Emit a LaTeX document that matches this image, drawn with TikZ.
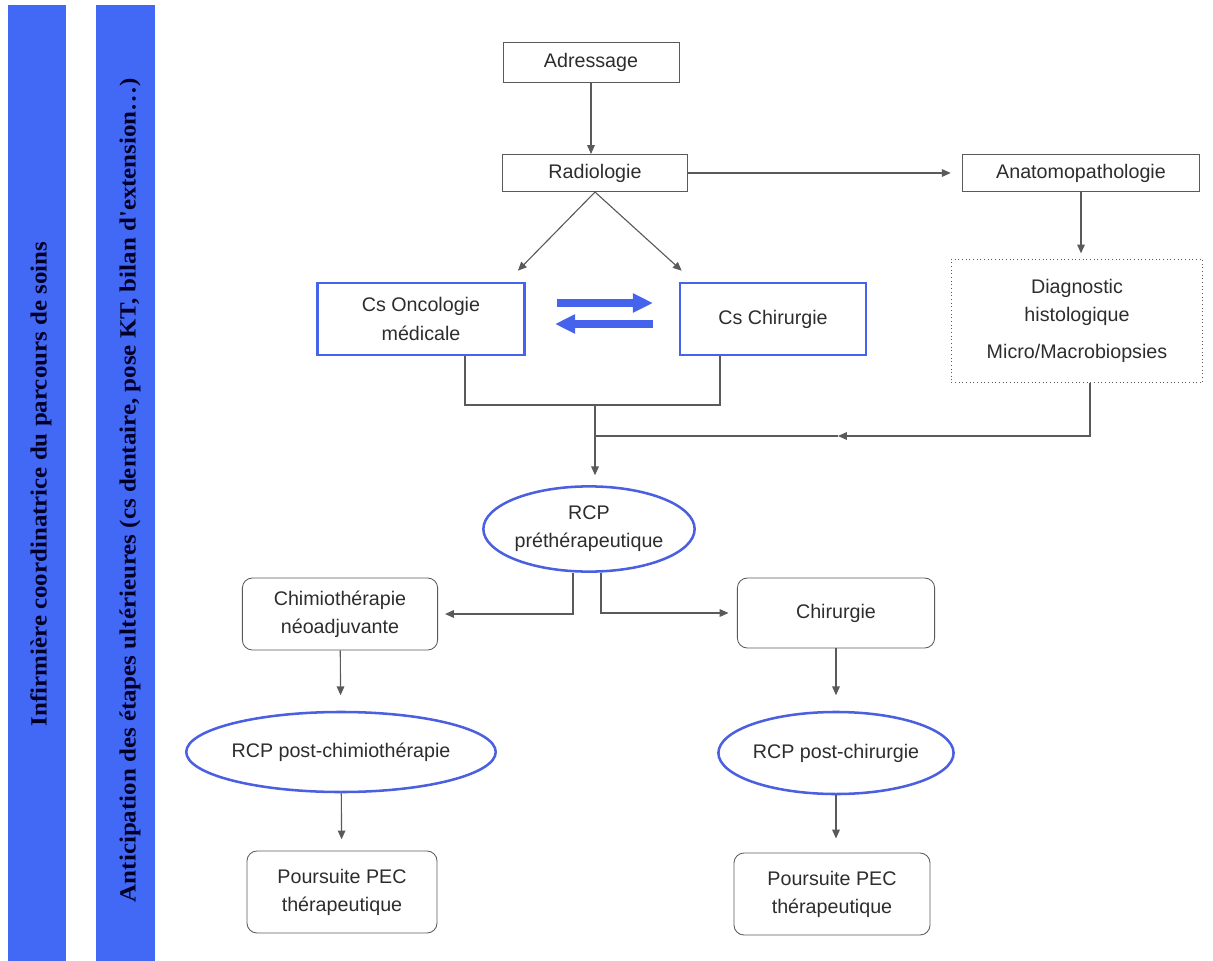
\documentclass[tikz,border=0pt]{standalone}
\usepackage{fontspec}
\setmainfont{Liberation Sans}
\newfontfamily\barfont{Liberation Serif}
\usepackage{graphicx}
\usepackage{xcolor}
\usepackage{tikz}
\usetikzlibrary{shapes.geometric, arrows.meta, positioning, calc}

\definecolor{barblue}{RGB}{66,104,246}
\definecolor{boxblue}{RGB}{70,100,235}
\definecolor{ovalblue}{RGB}{75,95,225}
\definecolor{linegray}{RGB}{90,90,90}
\definecolor{txtgray}{RGB}{45,45,45}

\tikzset{
  box/.style={draw=linegray, line width=0.6pt, text=txtgray, align=center,
    font=\fontsize{14}{20}\selectfont, inner sep=2pt},
  bluebox/.style={box, draw=boxblue, line width=1.8pt},
  roundbox/.style={box, rounded corners=0.25cm},
  oval/.style={ellipse, draw=ovalblue, line width=1.8pt, text=txtgray, align=center,
    font=\fontsize{14}{20}\selectfont, inner sep=0pt},
  line/.style={draw=linegray, line width=0.8pt},
  arr/.style={line, -{Triangle[length=2.2mm, width=1.9mm]}},
  bigarr/.style={draw=boxblue, line width=0.2cm, -{Triangle[length=0.5cm, width=0.45cm]}},
  bartext/.style={rotate=90, text=black!85!blue, font=\barfont\fontsize{16.5}{18}\bfseries\selectfont}
}

\begin{document}
\begin{tikzpicture}[x=0.025cm, y=-0.025cm]
  \useasboundingbox (0,0) rectangle (1213,961);

  % Side bars
  \fill[barblue] (8,5) rectangle (66,961);
  \fill[barblue] (96,5) rectangle (155,961);
  \node[bartext] (coord) at (41,484)
    {\resizebox{12.1cm}{\height}{Infirmière coordinatrice du parcours de soins}};
  \node[bartext] (antic) at (130,490)
    {\resizebox{20.6cm}{\height}{Anticipation des étapes ultérieures (cs dentaire, pose KT, bilan d'extension…)}};

  % Top boxes
  \node[box, minimum width=4.4cm, minimum height=1cm] (adr) at (591,62) {Adressage};
  \node[box, minimum width=4.63cm, minimum height=0.93cm] (radio) at (595,173) {Radiologie};
  \node[box, minimum width=5.93cm, minimum height=0.93cm] (anapath) at (1081,173) {Anatomopathologie};

  % Consultations
  \node[bluebox, minimum width=5.18cm, minimum height=1.8cm] (onco) at (421,319) {Cs Oncologie\\médicale};
  \node[bluebox, minimum width=4.65cm, minimum height=1.8cm] (chir) at (773,319) {Cs Chirurgie};
  \node[box, dotted, minimum width=6.28cm, minimum height=3.08cm] (diag) at (1077,321)
    {Diagnostic\\histologique\\[6pt]Micro/Macrobiopsies};

  % RCP and treatments
  \node[oval, minimum width=5.28cm, minimum height=2.13cm] (rcppre) at (589,529) {RCP\\préthérapeutique};
  \node[roundbox, minimum width=4.88cm, minimum height=1.8cm] (chimio) at (340,614) {Chimiothérapie\\néoadjuvante};
  \node[roundbox, minimum width=4.93cm, minimum height=1.75cm] (chirurgie) at (836,613) {Chirurgie};
  \node[oval, minimum width=6.63cm, minimum height=2cm] (rcpchimio) at (341,752) {RCP post-chimiothérapie};
  \node[oval, minimum width=5.45cm, minimum height=2.05cm] (rcpchir) at (836,753) {RCP post-chirurgie};
  \node[roundbox, minimum width=4.75cm, minimum height=2.05cm] (suite1) at (342,892) {Poursuite PEC\\thérapeutique};
  \node[roundbox, minimum width=4.9cm, minimum height=2.05cm] (suite2) at (832,894) {Poursuite PEC\\thérapeutique};

  % Junction points
  \coordinate (join) at (595,405);
  \coordinate (merge) at (595,436);
  \coordinate (mid) at (838,436);
  \coordinate (toright) at (557,303);
  \coordinate (toright2) at (653,303);
  \coordinate (toleft) at (653,324);
  \coordinate (toleft2) at (555,324);

  % Connectors
  \draw[arr] (adr.south) -- (adr.south |- radio.north);
  \draw[arr, shorten >=8pt] (radio) -- (anapath);
  \draw[arr] (radio.south) -- ([shift={(-8,-11)}]onco.north east);
  \draw[arr] (radio.south) -- ([shift={(3,-11)}]chir.north west);
  \draw[arr, shorten >=4pt] (anapath.south) -- (anapath.south |- diag.north);
  \draw[line] ([shift={(44,0)}]onco.south) |- (join) -| ([shift={(-53,0)}]chir.south);
  \draw[arr, shorten >=7pt] (join) -- (join |- rcppre.north);
  \draw[arr] ([shift={(13,0)}]diag.south) |- (mid);
  \draw[line] (mid) -- (merge);

  % Exchange between consultations
  \draw[bigarr] (toright) -- (toright2);
  \draw[bigarr] (toleft) -- (toleft2);

  % Branches from RCP
  \draw[arr, shorten >=5pt] ([shift={(-16,0)}]rcppre.south) |- (chimio.east);
  \draw[arr, shorten >=6pt] ([shift={(12,0)}]rcppre.south) |- (chirurgie.west);
  \draw[arr, shorten >=11pt] (chimio) -- (rcpchimio);
  \draw[arr, shorten >=8pt] (rcpchimio) -- (suite1);
  \draw[arr, shorten >=11pt] (chirurgie) -- (rcpchir);
  \draw[arr, shorten >=10pt] (rcpchir.south) -- (rcpchir.south |- suite2.north);
\end{tikzpicture}
\end{document}
